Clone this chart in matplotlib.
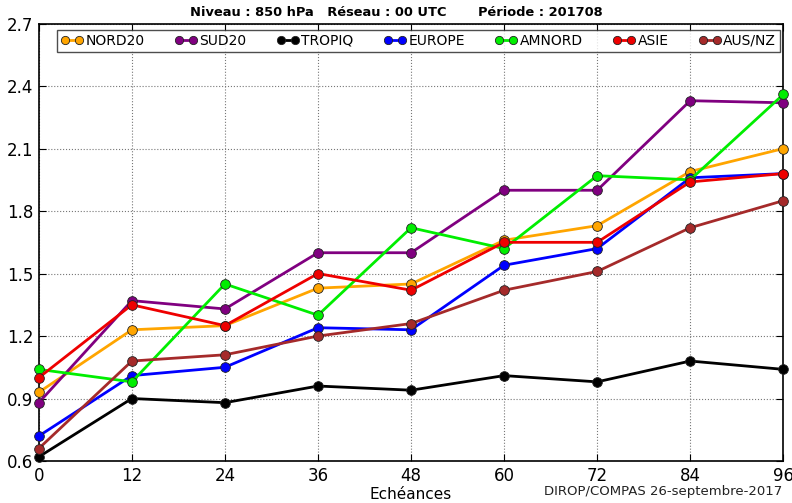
import matplotlib
matplotlib.use("Agg")
import matplotlib.pyplot as plt
import numpy as np

echeances = [0, 12, 24, 36, 48, 60, 72, 84, 96]

labels = ["NORD20", "SUD20", "TROPIQ", "EUROPE", "AMNORD", "ASIE", "AUS/NZ"]
colors = ["#FFA500", "#800080", "#000000", "#0000FF", "#00EE00", "#EE0000", "#A52A2A"]

nord20 = [0.93, 1.23, 1.25, 1.43, 1.45, 1.66, 1.73, 1.99, 2.10]
sud20 = [0.88, 1.37, 1.33, 1.60, 1.60, 1.90, 1.90, 2.33, 2.32]
tropiq = [0.62, 0.90, 0.88, 0.96, 0.94, 1.01, 0.98, 1.08, 1.04]
europe = [0.72, 1.01, 1.05, 1.24, 1.23, 1.54, 1.62, 1.96, 1.98]
amnord = [1.04, 0.98, 1.45, 1.30, 1.72, 1.62, 1.97, 1.95, 2.36]
asie = [1.00, 1.35, 1.25, 1.50, 1.42, 1.65, 1.65, 1.94, 1.98]
ausnz = [0.66, 1.08, 1.11, 1.20, 1.26, 1.42, 1.51, 1.72, 1.85]

series = [nord20, sud20, tropiq, europe, amnord, asie, ausnz]

xticks = np.arange(0, 97, 12)
yticks = [0.6, 0.9, 1.2, 1.5, 1.8, 2.1, 2.4, 2.7]

fig = plt.figure(figsize=(7.92, 5.03), dpi=100)
ax = fig.add_axes([0.049, 0.0835, 0.94, 0.8695])

for vals, lab, col in zip(series, labels, colors):
    ax.plot(echeances, vals, "-o", color=col, lw=2, ms=7,
            mec="#222222", mew=0.6, label=lab, clip_on=False, zorder=3)

ax.set_xlim(0, 96)
ax.set_ylim(0.6, 2.7)
ax.set_xticks(xticks)
ax.set_yticks(yticks)
ax.set_yticklabels(["%.1f" % y for y in yticks])
ax.tick_params(direction="in", top=True, right=True, labelsize=12, length=5, pad=4)
ax.grid(True, linestyle=":", color="#777777", lw=0.8)
for s in ax.spines.values():
    s.set_linewidth(1.2)

ax.set_xlabel("Echéances", fontsize=11, labelpad=2)
ax.xaxis.set_label_coords(0.5, -0.06)

leg = ax.legend(ncol=7, loc="lower left", bbox_to_anchor=(0.024, 0.935, 0.972, 0.05),
                mode="expand", borderaxespad=0, fontsize=10, numpoints=2,
                handlelength=1.6, handletextpad=0.15, markerscale=0.85,
                fancybox=False, edgecolor="#222222", borderpad=0.3)
leg.get_frame().set_linewidth(1.0)

fig.text(0.5, 0.976, "Niveau : 850 hPa   Réseau : 00 UTC       Période : 201708",
         ha="center", va="center", fontsize=9.4, fontweight="bold")
fig.text(0.988, 0.023, "DIROP/COMPAS 26-septembre-2017", ha="right", va="center",
         fontsize=9.5, color="#222222")

plt.savefig("out.png", dpi=100)
